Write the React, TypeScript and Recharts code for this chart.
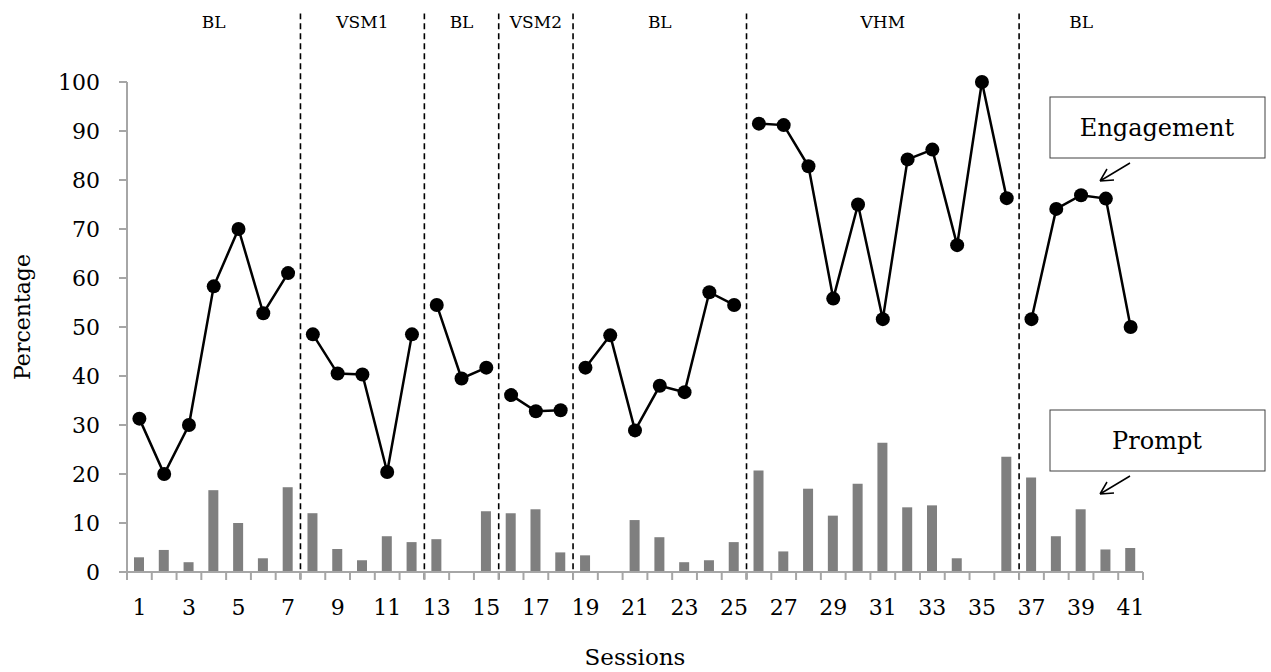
import {
  Bar,
  ComposedChart,
  Line,
  ReferenceArea,
  ReferenceLine,
  XAxis,
  YAxis,
} from "recharts";

const sessions = [
  1, 2, 3, 4, 5, 6, 7, 8, 9, 10, 11, 12, 13, 14, 15, 16, 17, 18, 19, 20, 21,
  22, 23, 24, 25, 26, 27, 28, 29, 30, 31, 32, 33, 34, 35, 36, 37, 38, 39, 40,
  41,
];

const engagement = [
  31.3, 20, 30, 58.3, 70, 52.8, 61, 48.5, 40.5, 40.3, 20.4, 48.5, 54.5, 39.5,
  41.7, 36.1, 32.8, 33, 41.7, 48.3, 28.9, 38, 36.7, 57.1, 54.5, 91.5, 91.2,
  82.8, 55.8, 75, 51.6, 84.2, 86.2, 66.7, 100, 76.3, 51.6, 74.1, 76.9, 76.2,
  50,
];

const prompt = [
  3, 4.5, 2, 16.7, 10, 2.8, 17.3, 12, 4.7, 2.4, 7.3, 6.1, 6.7, 0, 12.4, 12,
  12.8, 4, 3.4, 0, 10.6, 7.1, 2, 2.4, 6.1, 20.7, 4.2, 17, 11.5, 18, 26.4, 13.2,
  13.6, 2.8, 0, 23.5, 19.3, 7.3, 12.8, 4.6, 4.9,
];

const phaseLabels = ["BL", "VSM1", "BL", "VSM2", "BL", "VHM", "BL"];
const phaseStarts = [1, 8, 13, 16, 19, 26, 37];
const phaseEnds = [7, 12, 15, 18, 25, 36, 41];

const yTicks = [0, 10, 20, 30, 40, 50, 60, 70, 80, 90, 100];
const xLabelTicks = sessions.filter((s) => s % 2 === 1);
const xBoundaryTicks = [...sessions.map((s) => s - 0.5), 41.5];

const FONT = "'DejaVu Serif', serif";
const AXIS_GREY = "#a6a6a6";

const data = sessions.map((session, i) => {
  const row: Record<string, number | null> = {
    session,
    prompt: prompt[i],
  };
  phaseStarts.forEach((start, k) => {
    row[`e${k}`] =
      session >= start && session <= phaseEnds[k] ? engagement[i] : null;
  });
  return row;
});

function SessionTick(props: any) {
  const { x, y, payload } = props;
  const value = payload?.value as number;
  if (!Number.isInteger(value)) {
    return (
      <line x1={x} y1={y} x2={x} y2={y + 8} stroke={AXIS_GREY} strokeWidth={2} />
    );
  }
  return (
    <text
      x={x}
      y={y + 43}
      textAnchor="middle"
      fontFamily={FONT}
      fontSize={22}
      fill="#000"
    >
      {value}
    </text>
  );
}

function PhaseLabel(props: any) {
  const vb = props.viewBox ?? {};
  return (
    <text
      x={vb.x + vb.width / 2}
      y={vb.y - 54}
      textAnchor="middle"
      fontFamily={FONT}
      fontSize={17}
      fill="#000"
    >
      {props.value}
    </text>
  );
}

function Callouts() {
  const boxes = [
    { label: "Engagement", y: 97 },
    { label: "Prompt", y: 410 },
  ];
  return (
    <svg
      width={1271}
      height={672}
      style={{ position: "absolute", left: 0, top: 0, pointerEvents: "none" }}
    >
      {boxes.map((b) => (
        <g key={b.label}>
          <rect
            x={1050}
            y={b.y}
            width={215}
            height={61}
            fill="#fff"
            stroke="#404040"
            strokeWidth={1}
          />
          <text
            x={1157}
            y={b.y + 39}
            textAnchor="middle"
            fontFamily={FONT}
            fontSize={24}
            fill="#000"
          >
            {b.label}
          </text>
          <path
            d={`M1130 ${b.y + 66} L1100 ${b.y + 84} M1100 ${b.y + 84} L1114 ${b.y + 83} M1100 ${b.y + 84} L1107 ${b.y + 72}`}
            stroke="#000"
            strokeWidth={1.5}
            fill="none"
          />
        </g>
      ))}
    </svg>
  );
}

export default function App() {
  return (
    <div
      style={{
        position: "absolute",
        left: 0,
        top: 0,
        width: 1271,
        height: 672,
        background: "#fff",
      }}
    >
      <ComposedChart
        width={1271}
        height={672}
        data={data}
        margin={{ top: 82, right: 128, bottom: 0, left: 0 }}
        style={{ fontFamily: FONT }}
      >
        <XAxis
          dataKey="session"
          type="number"
          domain={[0.5, 41.5]}
          ticks={[...xBoundaryTicks, ...xLabelTicks]}
          interval={0}
          tick={<SessionTick />}
          tickLine={false}
          tickSize={0}
          tickMargin={0}
          axisLine={{ stroke: AXIS_GREY, strokeWidth: 2 }}
          height={100}
          label={{
            content: (p: any) => {
              const vb = p.viewBox ?? {};
              return (
                <text
                  x={vb.x + vb.width / 2}
                  y={vb.y + 93}
                  textAnchor="middle"
                  fontFamily={FONT}
                  fontSize={23}
                  fill="#000"
                >
                  Sessions
                </text>
              );
            },
          }}
        />
        <YAxis
          type="number"
          domain={[0, 100]}
          ticks={yTicks}
          interval={0}
          width={127}
          tickSize={8}
          tickMargin={19}
          tickLine={{ stroke: AXIS_GREY, strokeWidth: 2 }}
          axisLine={{ stroke: AXIS_GREY, strokeWidth: 2 }}
          tick={{ fill: "#000", fontSize: 22, fontFamily: FONT }}
          label={{
            content: (p: any) => {
              const vb = p.viewBox ?? {};
              const cy = vb.y + vb.height / 2 - 10;
              return (
                <text
                  x={22}
                  y={cy}
                  transform={`rotate(-90 22 ${cy})`}
                  textAnchor="middle"
                  dominantBaseline="central"
                  fontFamily={FONT}
                  fontSize={22}
                  fill="#000"
                >
                  Percentage
                </text>
              );
            },
          }}
        />

        {phaseLabels.map((label, k) => (
          <ReferenceArea
            key={`area-${k}`}
            x1={phaseStarts[k] - 0.5}
            x2={phaseEnds[k] + 0.5}
            fill="none"
            fillOpacity={0}
            stroke="none"
            ifOverflow="visible"
            label={<PhaseLabel value={label} />}
          />
        ))}

        {phaseEnds.slice(0, -1).map((end) => (
          <ReferenceLine
            key={`line-${end}`}
            segment={[
              { x: end + 0.5, y: -1.5 },
              { x: end + 0.5, y: 114 },
            ]}
            stroke="#000"
            strokeWidth={1.6}
            strokeDasharray="6 4"
            ifOverflow="visible"
          />
        ))}

        <Bar
          dataKey="prompt"
          fill="#7f7f7f"
          barSize={10}
          isAnimationActive={false}
        />

        {phaseLabels.map((_, k) => (
          <Line
            key={`e${k}`}
            dataKey={`e${k}`}
            type="linear"
            stroke="#000"
            strokeWidth={2.5}
            dot={{ r: 7, fill: "#000", stroke: "none" }}
            activeDot={false}
            connectNulls={false}
            isAnimationActive={false}
          />
        ))}
      </ComposedChart>
      <Callouts />
    </div>
  );
}
